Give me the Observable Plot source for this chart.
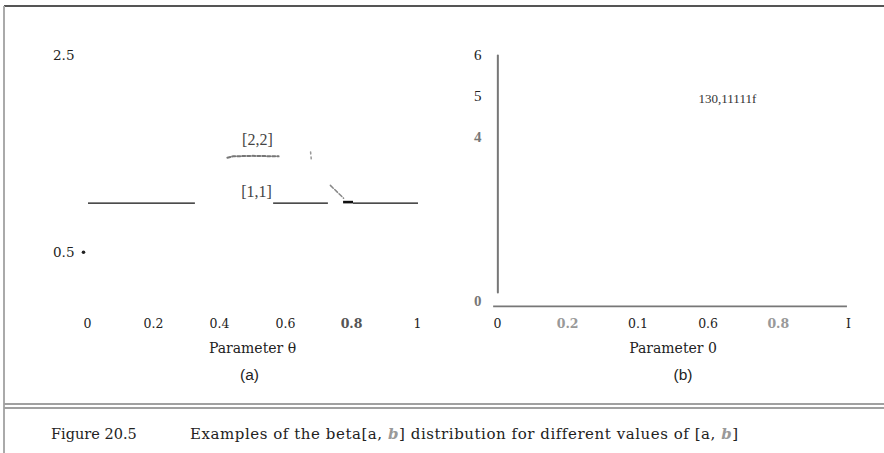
<!DOCTYPE html>
<html><head><meta charset="utf-8">
<script src="https://cdn.jsdelivr.net/npm/d3@7"></script>
<script src="https://cdn.jsdelivr.net/npm/@observablehq/plot@0.6"></script>
<style>
body{margin:0;background:#fff;}
#page{position:relative;width:884px;height:453px;overflow:hidden;background:#fff;}
.panel{position:absolute;top:0;height:400px;}
.bar{position:absolute;z-index:5;}
#caption{position:absolute;left:51px;top:426px;font-family:"DejaVu Serif";font-size:14.5px;color:#222;white-space:nowrap;z-index:6;}
#caption .rest{position:absolute;left:139px;top:-1px;font-size:15px;letter-spacing:0.55px;}
</style></head><body>
<div id="page">
 <div class="panel" id="pa" style="left:0;width:440px"></div>
 <div class="panel" id="pb" style="left:440px;width:444px"></div>
 <div class="bar" style="left:4px;top:5px;width:880px;height:2px;background:#555"></div>
 <div class="bar" style="left:3px;top:6px;width:2px;height:447px;background:#aaa"></div>
 <div class="bar" style="left:4px;top:403px;width:880px;height:2px;background:#a0a0a0"></div>
 <div class="bar" style="left:4px;top:407px;width:880px;height:2px;background:#a0a0a0"></div>
 <div id="caption"><span>Figure 20.5</span><span class="rest">Examples of the beta[a, <b><i style="color:#999">b</i></b>] distribution for different values of [a, <b><i style="color:#999">b</i></b>]</span></div>
</div>
<script>
// ---- data ----
const thetaTicks = [0, 0.2, 0.4, 0.6, 0.8, 1];
const thetaLabelsA = ["0", "0.2", "0.4", "0.6", "0.8", "1"];
const thetaLabelsB = ["0", "0.2", "0.1", "0.6", "0.8", "I"];
const blurredThetaA = [0.8];
const blurredThetaB = [0.2, 0.8];
const densityTicksA = [0.5, 2.5];
const densityTicksB = [0, 4, 5, 6];
const blurredDensityB = [0, 4];
const dotTicksA = [0.5];

const uniformSegStart = [0.003, 0.564, 0.806];
const uniformSegEnd = [0.327, 0.730, 1.003];
const uniformDensity = 1;
const uniformThickStart = [0.776];
const uniformThickEnd = [0.806];

const beta22Theta = [0.424, 0.44, 0.5, 0.579];
const beta22Density = [1.46, 1.475, 1.48, 1.475];
const beta22TailTheta = [0.736, 0.776];
const beta22TailDensity = [1.18, 1.05];
const beta22FragTheta = [0.676, 0.678];
const beta22FragDensity = [1.52, 1.45];

const seriesLabelsA = ["[2,2]", "[1,1]"];
const seriesLabelThetaA = [0.515, 0.512];
const seriesLabelDensityA = [1.64, 1.11];

const spikeTheta = [0.001, 0.001];
const spikeDensity = [0.22, 6];
const seriesLabelsB = ["130,11111f"];
const seriesLabelThetaB = [0.655];
const seriesLabelDensityB = [4.95];
const baseLineDensityB = [-0.12];
const baseLineThetaFrom = -0.011;
const baseLineThetaTo = 0.997;

const axisTitleA = "Parameter θ";
const axisTitleB = "Parameter 0";
const panelTagA = "(a)";
const panelTagB = "(b)";

// ---- panel (a) ----
const labA = new Map(thetaTicks.map((t, i) => [t, thetaLabelsA[i]]));
const labB = new Map(thetaTicks.map((t, i) => [t, thetaLabelsB[i]]));

const plotA = Plot.plot({
  width: 440, height: 400,
  marginLeft: 87, marginRight: 23, marginTop: 55, marginBottom: 99,
  x: {domain: [0, 1], axis: null},
  y: {domain: [0, 2.5], axis: null},
  style: {background: "transparent", fontFamily: "DejaVu Serif", fontSize: "13px", color: "#222"},
  marks: [
    Plot.axisX(thetaTicks.filter(t => !blurredThetaA.includes(t)), {tickSize: 0, tickPadding: 18, tickFormat: d => labA.get(d), fontSize: 12.5}),
    Plot.axisX(blurredThetaA, {tickSize: 0, tickPadding: 18, tickFormat: d => labA.get(d), fontSize: 12.5, fontWeight: "bold", fill: "#555"}),
    Plot.axisY(densityTicksA, {tickSize: 0, tickPadding: 13, tickFormat: d => String(d), fontSize: 13.5}),
    Plot.dot(dotTicksA, {y: d => d, frameAnchor: "left", dx: -4, r: 1.8, fill: "#222", stroke: null}),
    Plot.ruleY(uniformSegStart, {x1: d => d, x2: (d, i) => uniformSegEnd[i], y: () => uniformDensity, stroke: "#111", strokeWidth: 1.3}),
    Plot.ruleY(uniformThickStart, {x1: d => d, x2: (d, i) => uniformThickEnd[i], y: () => uniformDensity, dy: -1, stroke: "#111", strokeWidth: 2.6}),
    Plot.line(beta22Theta, {x: d => d, y: (d, i) => beta22Density[i], stroke: "#777", strokeWidth: 2, strokeDasharray: "3,2"}),
    Plot.line(beta22FragTheta, {x: d => d, y: (d, i) => beta22FragDensity[i], stroke: "#999", strokeWidth: 1.5, strokeDasharray: "2,3"}),
    Plot.line(beta22TailTheta, {x: d => d, y: (d, i) => beta22TailDensity[i], stroke: "#888", strokeWidth: 1.5, strokeDasharray: "4,2"}),
    Plot.text(seriesLabelsA, {x: (d, i) => seriesLabelThetaA[i], y: (d, i) => seriesLabelDensityA[i], fontFamily: "Liberation Serif", fontSize: 16, fill: "#444"}),
    Plot.text([axisTitleA], {frameAnchor: "bottom", dy: 51, fontSize: 14, fill: "#222"}),
    Plot.text([panelTagA], {frameAnchor: "bottom", dy: 78, dx: -3, fontFamily: "Liberation Sans", fontSize: 15.5, fill: "#222"})
  ]
});
document.getElementById("pa").appendChild(plotA);

// ---- panel (b) ----
const plotB = Plot.plot({
  width: 444, height: 400,
  marginLeft: 57, marginRight: 36, marginTop: 55, marginBottom: 99,
  x: {domain: [0, 1], axis: null},
  y: {domain: [0, 6], axis: null},
  style: {background: "transparent", fontFamily: "DejaVu Serif", fontSize: "13px", color: "#222"},
  marks: [
    Plot.axisX(thetaTicks.filter(t => !blurredThetaB.includes(t)), {tickSize: 0, tickPadding: 18, tickFormat: d => labB.get(d), fontSize: 12.5}),
    Plot.axisX(blurredThetaB, {tickSize: 0, tickPadding: 18, tickFormat: d => labB.get(d), fontSize: 12.5, fontWeight: "bold", fill: "#999"}),
    Plot.axisY(densityTicksB.filter(t => !blurredDensityB.includes(t)), {tickSize: 0, tickPadding: 16, tickFormat: d => String(d), fontFamily: "Liberation Serif", fontSize: 15}),
    Plot.axisY(blurredDensityB, {tickSize: 0, tickPadding: 16, tickFormat: d => String(d), fontFamily: "Liberation Serif", fontSize: 15, fontWeight: "bold", fill: "#777"}),
    Plot.ruleY(baseLineDensityB, {x1: () => baseLineThetaFrom, x2: () => baseLineThetaTo, y: d => d, stroke: "#777", strokeWidth: 1.6}),
    Plot.line(spikeTheta, {x: d => d, y: (d, i) => spikeDensity[i], stroke: "#777", strokeWidth: 2}),
    Plot.text(seriesLabelsB, {x: (d, i) => seriesLabelThetaB[i], y: (d, i) => seriesLabelDensityB[i], fontFamily: "Liberation Serif", fontSize: 13, fill: "#333"}),
    Plot.text([axisTitleB], {frameAnchor: "bottom", dy: 51, fontSize: 14, fill: "#222"}),
    Plot.text([panelTagB], {frameAnchor: "bottom", dy: 78, dx: 10, fontFamily: "Liberation Sans", fontSize: 15.5, fill: "#222"})
  ]
});
document.getElementById("pb").appendChild(plotB);
</script>
</body></html>
